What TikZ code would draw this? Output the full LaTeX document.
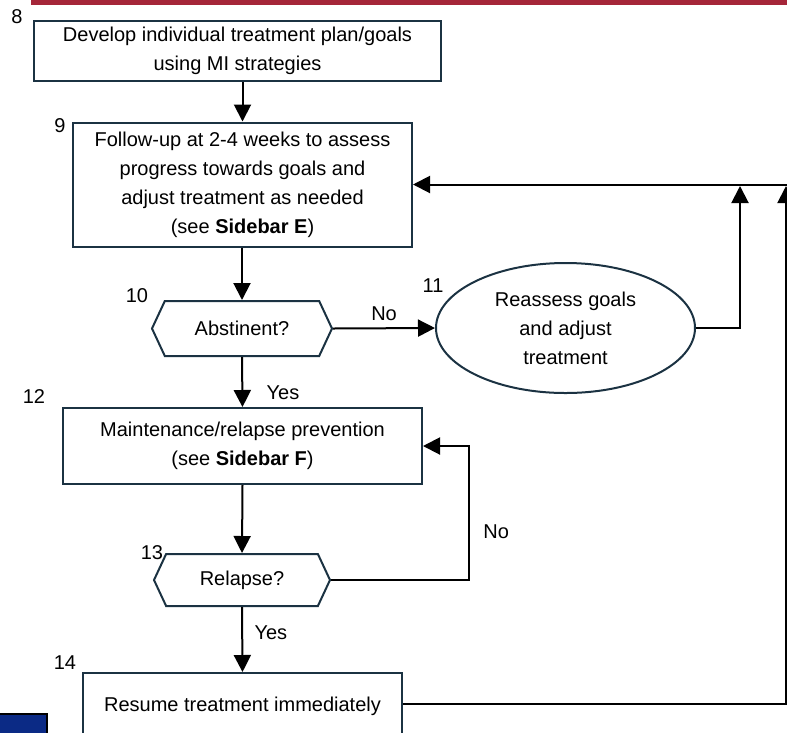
\documentclass[tikz,border=0pt]{standalone}
\usepackage{fontspec}
\setmainfont{Liberation Sans}
\usetikzlibrary{shapes.symbols,shapes.geometric,arrows.meta}
\definecolor{boxline}{HTML}{1B3242}
\definecolor{barred}{HTML}{A52639}
\definecolor{navy}{HTML}{0B2A85}
\tikzset{
	stepbox/.style={draw=boxline, line width=2pt, rectangle, inner sep=0pt, align=center},
	decision/.style={draw=boxline, line width=2pt, signal, signal to=east and west, signal pointer angle=130, inner sep=0pt},
	arr/.style={-{Triangle[length=17pt,width=17pt]}, line width=2pt},
	num/.style={inner sep=0pt},
}
\begin{document}
\begin{tikzpicture}[x=1pt,y=-1pt,font=\fontsize{20}{29}\selectfont]
	\useasboundingbox (0,0) rectangle (787,732);
	\fill[barred] (31,0) rectangle (787,5);
	\draw[fill=navy, line width=1.5pt] (-2,714) rectangle (47,745);

	\node[stepbox, minimum width=407, minimum height=60] (8) at (237.5,51) {Develop individual treatment plan/goals\\using MI strategies};
	\node[stepbox, minimum width=339, minimum height=124] (9) at (242.5,184.5) {Follow-up at 2-4 weeks to assess\\progress towards goals and\\adjust treatment as needed\\(see \textbf{Sidebar E})};
	\node[decision, minimum width=180, minimum height=55] (10) at (242,328.5) {Abstinent?};
	\node[draw=boxline, line width=2pt, ellipse, inner sep=0pt, align=center, minimum width=259, minimum height=130] (11) at (565.5,328) {Reassess goals\\and adjust\\treatment};
	\node[stepbox, minimum width=359, minimum height=76] (12) at (242.5,446) {Maintenance/relapse prevention\\(see \textbf{Sidebar F})};
	\node[decision, minimum width=176, minimum height=52] (13) at (242,580) {Relapse?};
	\node[stepbox, minimum width=319, minimum height=66] (14) at (242.5,706) {Resume treatment immediately};

	\node[num] (n8) at (17,17) {8};
	\node[num] (n9) at (60,126) {9};
	\node[num] (n10) at (137,296) {10};
	\node[num] (n11) at (433,286) {11};
	\node[num] (n12) at (34,397) {12};
	\node[num] (n13) at (152,553) {13};
	\node[num] (n14) at (65,663) {14};

	\coordinate (up1) at (740,186);
	\coordinate (up2) at (786,186);
	\coordinate (edge) at (787,184.5);
	\coordinate (back) at (469,446);

	\draw[arr] (9.north |- 8.south) -- (9.north);
	\draw[arr] (10.north |- 9.south) -- (10.north);
	\draw[arr] (10.east) -- node[above=3pt] (no1) {No} (11.west);
	\draw[arr] (10.south) -- node[right=20pt, pos=0.72] (yes1) {Yes} (12.north);
	\draw[arr] (12.south) -- (13.north);
	\draw[arr] (13.south) -- node[right=8pt, pos=0.4] (yes2) {Yes} (14.north);
	\draw[arr] (13.east) -| node[right=10pt, pos=0.68] (no2) {No} (back) -- (12.east);
	\draw[arr] (11.east) -| (up1);
	\draw[arr] (14.east |- 0,704) -| (up2);
	\draw[arr] (edge) -- (9.east);
\end{tikzpicture}
\end{document}
